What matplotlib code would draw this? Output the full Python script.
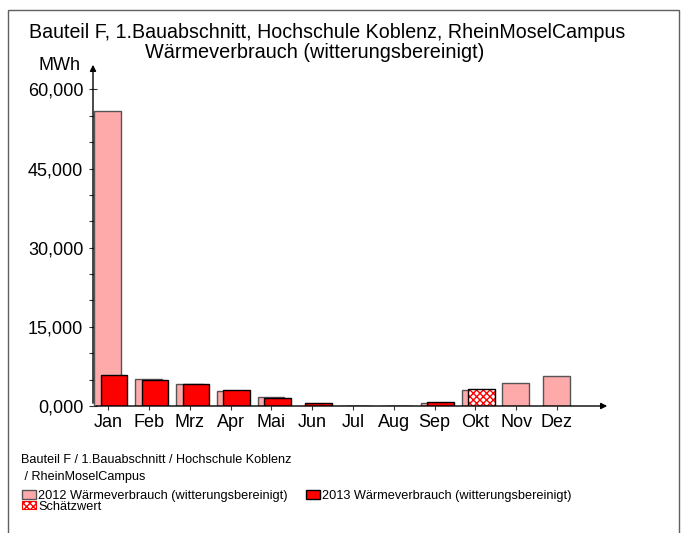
import numpy as np
import matplotlib
matplotlib.use("Agg")
import matplotlib.pyplot as plt
from matplotlib.patches import Rectangle, Patch
from matplotlib.ticker import FixedLocator, FuncFormatter

plt.rcParams['font.family'] = ['Liberation Sans', 'DejaVu Sans']

months = ['Jan', 'Feb', 'Mrz', 'Apr', 'Mai', 'Jun', 'Jul', 'Aug', 'Sep', 'Okt', 'Nov', 'Dez']
w2012 = [55900, 5200, 4250, 2850, 1790, 80, 50, 50, 480, 3110, 4430, 5750]
w2013 = [5950, 4940, 4180, 3110, 1470, 570, 50, 50, 840, 3240, 0, 0]
estimated_2013 = [False] * 9 + [True, False, False]

W, H = 683, 533
fig = plt.figure(figsize=(W / 100, H / 100), dpi=100)

def fx(px): return px / W
def fy(py): return 1 - py / H

# outer frame
fig.add_artist(Rectangle((fx(8), fy(540)), fx(679) - fx(8), fy(10) - fy(540),
                         transform=fig.transFigure, fill=False, ec='#606060', lw=1.0))

ax = fig.add_axes([fx(93), fy(406), fx(610) - fx(93), fy(62) - fy(406)])
x = np.arange(len(months))
bw = 0.65
ax.bar(x - 0.01, w2012, bw, color='#ffaaaa', edgecolor='#555555', lw=1.0, zorder=2)
for xi, v, est in zip(x, w2013, estimated_2013):
    if v <= 0:
        continue
    if est:
        ax.bar(xi + 0.15, v, bw, color='white', edgecolor='#ff0000', hatch='xxxxx', lw=0, zorder=3)
        ax.bar(xi + 0.15, v, bw, fill=False, edgecolor='black', lw=1.0, zorder=4)
    else:
        ax.bar(xi + 0.15, v, bw, color='#ff0000', edgecolor='black', lw=1.0, zorder=3)

ax.set_xlim(-0.37, 12.3)
ax.set_ylim(0, 65200)
for s in ax.spines.values():
    s.set_visible(False)
ax.set_facecolor('none')

# axis arrows
ax.annotate('', xy=(1.0, 0), xytext=(0, 0), xycoords='axes fraction',
            arrowprops=dict(arrowstyle='-|>', color='black', lw=1.0, mutation_scale=9))
ax.annotate('', xy=(0, 1.0), xytext=(0, 0), xycoords='axes fraction',
            arrowprops=dict(arrowstyle='-|>', color='black', lw=1.0, mutation_scale=9))

ax.yaxis.set_major_locator(FixedLocator([0, 15000, 30000, 45000, 60000]))
ax.yaxis.set_minor_locator(FixedLocator(np.arange(5000, 60000, 5000)))
ax.yaxis.set_major_formatter(FuncFormatter(lambda v, p: '0,000' if v == 0 else f'{int(v):,}'))
ax.tick_params(axis='y', which='both', direction='inout', length=6, width=0.8, color='#333333',
               labelsize=13, pad=4)
ax.set_xticks(x)
ax.set_xticklabels(months)
ax.tick_params(axis='x', direction='out', length=3, width=0.8, color='#333333', labelsize=13, pad=3)

fig.text(fx(80), fy(66), 'MWh', ha='right', va='center', fontsize=13)
fig.text(fx(327), fy(32), 'Bauteil F, 1.Bauabschnitt, Hochschule Koblenz, RheinMoselCampus',
         ha='center', va='center', fontsize=14.1)
fig.text(fx(315), fy(52), 'Wärmeverbrauch (witterungsbereinigt)', ha='center', va='center', fontsize=14.3)

fig.text(fx(21), fy(460), 'Bauteil F / 1.Bauabschnitt / Hochschule Koblenz', ha='left', va='center', fontsize=9.1)
fig.text(fx(21), fy(477), ' / RheinMoselCampus', ha='left', va='center', fontsize=9.1)

handles = [Patch(fc='#ffaaaa', ec='#555555', lw=1.0),
           Patch(fc='white', ec='#ff0000', hatch='xxxxx', lw=0.8),
           Patch(fc='#ff0000', ec='black', lw=1.0)]
labels = ['2012 Wärmeverbrauch (witterungsbereinigt)', 'Schätzwert',
          '2013 Wärmeverbrauch (witterungsbereinigt)']
fig.legend(handles, labels, loc='upper left', bbox_to_anchor=(fx(22), fy(490)), ncol=2,
           frameon=False, fontsize=9.2, handlelength=1.1, handleheight=0.63, handletextpad=0.15,
           labelspacing=-0.1, columnspacing=1.45, borderpad=0, borderaxespad=0)

fig.savefig('out.png', dpi=100)
